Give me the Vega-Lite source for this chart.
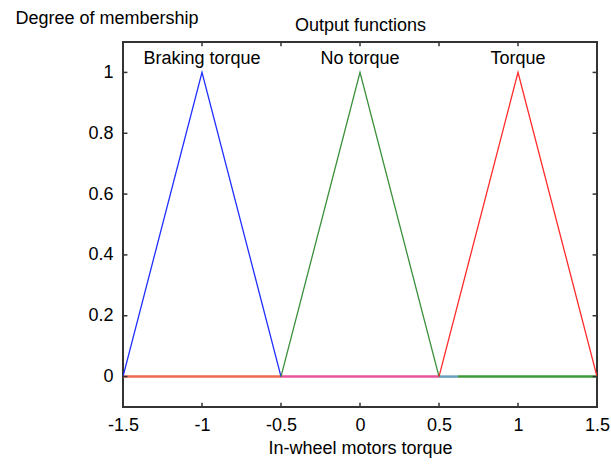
{
  "$schema": "https://vega.github.io/schema/vega-lite/v6.json",
  "width": 474,
  "height": 365,
  "autosize": {"type": "none"},
  "padding": {"left": 123, "top": 42, "right": 14, "bottom": 61},
  "background": "white",
  "config": {
    "font": "Liberation Sans",
    "view": {"stroke": "#333333", "strokeWidth": 2},
    "axis": {"grid": false, "domain": false, "ticks": false, "labelFont": "Liberation Sans", "labelFontSize": 18, "labelColor": "#000000", "titleFont": "Liberation Sans", "titleFontSize": 18, "titleFontWeight": "normal", "titleColor": "#000000", "labelExpr": "toString(datum.value)"}
  },
  "resolve": {"axis": {"x": "independent", "y": "independent"}},
  "datasets": {
    "mf": [
      {"x": -1.5, "y": 0, "s": "Braking torque"},
      {"x": -1, "y": 1, "s": "Braking torque"},
      {"x": -0.5, "y": 0, "s": "Braking torque"},
      {"x": -0.5, "y": 0, "s": "No torque"},
      {"x": 0, "y": 1, "s": "No torque"},
      {"x": 0.5, "y": 0, "s": "No torque"},
      {"x": 0.5, "y": 0, "s": "Torque"},
      {"x": 1, "y": 1, "s": "Torque"},
      {"x": 1.5, "y": 0, "s": "Torque"}
    ],
    "base": [
      {"x": -1.5, "y": 0, "s": "b1"},
      {"x": -0.5, "y": 0, "s": "b1"},
      {"x": -0.5, "y": 0, "s": "b2"},
      {"x": 0.5, "y": 0, "s": "b2"},
      {"x": 0.5, "y": 0, "s": "b3"},
      {"x": 0.62, "y": 0, "s": "b3"},
      {"x": 0.62, "y": 0, "s": "b4"},
      {"x": 1.5, "y": 0, "s": "b4"}
    ],
    "labels": [
      {"x": -1, "y": 1.045, "t": "Braking torque"},
      {"x": 0, "y": 1.045, "t": "No torque"},
      {"x": 1, "y": 1.045, "t": "Torque"}
    ],
    "xticks": [
      {"x": -1, "y": -0.1, "y2": -0.086}, {"x": -0.5, "y": -0.1, "y2": -0.086}, {"x": 0, "y": -0.1, "y2": -0.086}, {"x": 0.5, "y": -0.1, "y2": -0.086}, {"x": 1, "y": -0.1, "y2": -0.086},
      {"x": -1, "y": 1.1, "y2": 1.086}, {"x": -0.5, "y": 1.1, "y2": 1.086}, {"x": 0, "y": 1.1, "y2": 1.086}, {"x": 0.5, "y": 1.1, "y2": 1.086}, {"x": 1, "y": 1.1, "y2": 1.086}
    ],
    "yticks": [
      {"y": 0, "x": -1.5, "x2": -1.472}, {"y": 0.2, "x": -1.5, "x2": -1.472}, {"y": 0.4, "x": -1.5, "x2": -1.472}, {"y": 0.6, "x": -1.5, "x2": -1.472}, {"y": 0.8, "x": -1.5, "x2": -1.472}, {"y": 1, "x": -1.5, "x2": -1.472},
      {"y": 0, "x": 1.5, "x2": 1.472}, {"y": 0.2, "x": 1.5, "x2": 1.472}, {"y": 0.4, "x": 1.5, "x2": 1.472}, {"y": 0.6, "x": 1.5, "x2": 1.472}, {"y": 0.8, "x": 1.5, "x2": 1.472}, {"y": 1, "x": 1.5, "x2": 1.472}
    ]
  },
  "layer": [
    {
      "data": {"name": "base"},
      "mark": {"type": "line", "strokeWidth": 2.5, "clip": true},
      "encoding": {
        "x": {"field": "x", "type": "quantitative", "scale": {"domain": [-1.5, 1.5], "nice": false, "zero": false},
              "axis": {"orient": "bottom", "values": [-1.5, -1, -0.5, 0, 0.5, 1, 1.5], "labelPadding": 9, "title": "In-wheel motors torque", "titlePadding": 5, "labelFlush": false}},
        "y": {"field": "y", "type": "quantitative", "scale": {"domain": [-0.1, 1.1], "nice": false, "zero": false},
              "axis": {"orient": "left", "values": [0, 0.2, 0.4, 0.6, 0.8, 1], "labelPadding": 10, "title": "Degree of membership", "titleAngle": 0, "titleX": -108, "titleY": -24, "titleAlign": "left", "titleBaseline": "middle"}},
        "color": {"field": "s", "type": "nominal", "legend": null,
                  "scale": {"domain": ["b1", "b2", "b3", "b4", "Braking torque", "No torque", "Torque"],
                            "range": ["#ee6a50", "#e8559a", "#6a9fc0", "#3d9a3d", "#1f2fff", "#3a8f3a", "#ff2a2a"]}},
        "detail": {"field": "s"}
      }
    },
    {
      "data": {"name": "mf"},
      "mark": {"type": "line", "strokeWidth": 1.3, "clip": true},
      "encoding": {
        "x": {"field": "x", "type": "quantitative", "axis": {"orient": "top", "values": [-1.5, -1, -0.5, 0, 0.5, 1, 1.5], "labels": false, "title": "Output functions", "titlePadding": 8}},
        "y": {"field": "y", "type": "quantitative", "axis": null},
        "color": {"field": "s", "type": "nominal", "legend": null},
        "detail": {"field": "s"}
      }
    },
    {
      "data": {"name": "xticks"},
      "mark": {"type": "rule", "color": "#333333", "strokeWidth": 1.5},
      "encoding": {
        "x": {"field": "x", "type": "quantitative", "axis": null},
        "y": {"field": "y", "type": "quantitative", "axis": null},
        "y2": {"field": "y2"}
      }
    },
    {
      "data": {"name": "yticks"},
      "mark": {"type": "rule", "color": "#333333", "strokeWidth": 1.5},
      "encoding": {
        "y": {"field": "y", "type": "quantitative", "axis": null},
        "x": {"field": "x", "type": "quantitative", "axis": null},
        "x2": {"field": "x2"}
      }
    },
    {
      "data": {"name": "labels"},
      "mark": {"type": "text", "fontSize": 18, "font": "Liberation Sans", "color": "#000000", "baseline": "middle", "align": "center"},
      "encoding": {
        "x": {"field": "x", "type": "quantitative", "axis": null},
        "y": {"field": "y", "type": "quantitative", "axis": null},
        "text": {"field": "t"}
      }
    }
  ]
}
